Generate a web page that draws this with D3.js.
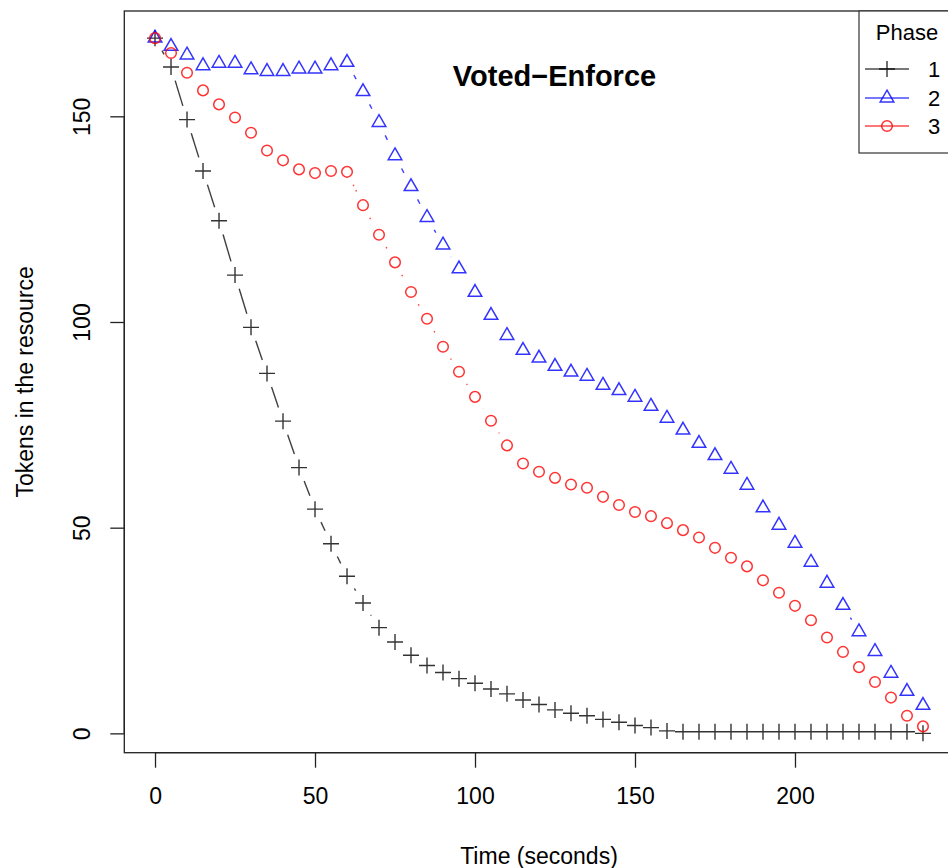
<!DOCTYPE html>
<html>
<head>
<meta charset="utf-8">
<script src="https://cdn.jsdelivr.net/npm/d3@7/dist/d3.min.js"></script>
<style>
  html, body { margin: 0; padding: 0; background: #fff; }
  svg { display: block; }
  text { font-family: "Liberation Sans", Arial, Helvetica, sans-serif; fill: #000; }
</style>
</head>
<body>
<svg id="chart" width="948" height="868"></svg>
<script>
// Sampling times (seconds)
const times = [0, 5, 10, 15, 20, 25, 30, 35, 40, 45, 50, 55, 60, 65, 70, 75, 80, 85, 90, 95,
  100, 105, 110, 115, 120, 125, 130, 135, 140, 145, 150, 155, 160, 165, 170, 175, 180, 185,
  190, 195, 200, 205, 210, 215, 220, 225, 230, 235, 240];

// Tokens remaining in the resource, per phase
const phase1 = [169.0, 162.0, 149.2, 136.7, 124.6, 111.4, 98.7, 87.5, 75.9, 64.6, 54.5, 46.1,
  38.2, 31.7, 25.7, 22.2, 19.0, 16.5, 14.8, 13.3, 12.2, 10.8, 9.6, 8.1, 7.0, 5.7, 4.9, 4.3,
  3.4, 2.7, 1.9, 1.4, 0.6, 0.4, 0.4, 0.4, 0.4, 0.4, 0.4, 0.4, 0.4, 0.4, 0.4, 0.4, 0.4, 0.4,
  0.4, 0.4, 0.0];
const phase2 = [169.0, 167.0, 164.9, 162.3, 162.9, 162.9, 161.3, 160.9, 160.9, 161.5, 161.5,
  162.3, 163.1, 156.0, 148.5, 140.4, 132.9, 125.4, 118.7, 112.9, 107.2, 101.6, 96.7, 93.1,
  91.2, 89.2, 87.8, 86.8, 84.6, 83.3, 81.7, 79.5, 76.6, 73.7, 70.5, 67.5, 64.2, 60.3, 54.8,
  50.6, 46.2, 41.6, 36.5, 31.1, 24.7, 19.9, 14.6, 10.2, 6.8];
const phase3 = [169.0, 165.4, 160.6, 156.3, 152.9, 149.7, 146.0, 141.7, 139.3, 137.1, 136.2,
  136.7, 136.5, 128.4, 121.2, 114.5, 107.3, 100.8, 94.0, 87.9, 81.8, 76.0, 70.0, 65.6, 63.6,
  62.1, 60.5, 59.7, 57.5, 55.5, 53.8, 52.8, 51.1, 49.4, 47.6, 45.1, 42.7, 40.6, 37.2, 34.2,
  31.0, 27.5, 23.3, 19.8, 16.1, 12.5, 8.7, 4.3, 1.7];

const phaseNames = ["1", "2", "3"];
const xTicks = [0, 50, 100, 150, 200];
const yTicks = [0, 50, 100, 150];

const chartTitle = "Voted\u2212Enforce";
const xTitle = "Time (seconds)";
const yTitle = "Tokens in the resource";
const legendTitle = "Phase";

const series = [
  { name: phaseNames[0], values: phase1, color: "#000000", shape: "cross", dash: null },
  { name: phaseNames[1], values: phase2, color: "#0000ff", shape: "triangle", dash: "5,5" },
  { name: phaseNames[2], values: phase3, color: "#ff0000", shape: "circle", dash: "1.5,4.5" }
];

const svg = d3.select("#chart");

// Plot region
const plotLeft = 124.3, plotRight = 953.7, plotTop = 11, plotBottom = 752.7;
const x = d3.scaleLinear().domain([-9.6, 249.6]).range([plotLeft, plotRight]);
const y = d3.scaleLinear().domain([-4.7, 175.6]).range([plotBottom, plotTop]);

// Marker drawing
function drawMarker(g, shape, color, cx, cy) {
  if (shape === "cross") {
    g.append("path")
      .attr("d", `M${cx - 8},${cy}H${cx + 8}M${cx},${cy - 8}V${cy + 8}`)
      .attr("stroke", color).attr("stroke-width", 1.4).attr("fill", "none")
      .attr("opacity", 0.8);
  } else if (shape === "triangle") {
    g.append("path")
      .attr("d", d3.symbol().type(d3.symbolTriangle).size(80)())
      .attr("transform", `translate(${cx},${cy})`)
      .attr("stroke", color).attr("stroke-width", 1.5).attr("fill", "none")
      .attr("opacity", 0.8);
  } else {
    g.append("circle")
      .attr("cx", cx).attr("cy", cy).attr("r", 5.3)
      .attr("stroke", color).attr("stroke-width", 1.5).attr("fill", "none")
      .attr("opacity", 0.8);
  }
}

// Series: points joined by segments that stop short of each point
const gap = 14.3;
const plotG = svg.append("g");
series.forEach(s => {
  const g = plotG.append("g");
  const pts = times.map((t, i) => [x(t), y(s.values[i])]);
  for (let i = 0; i < pts.length - 1; i++) {
    const [x0, y0] = pts[i], [x1, y1] = pts[i + 1];
    const dx = x1 - x0, dy = y1 - y0;
    const len = Math.hypot(dx, dy);
    if (len <= 2 * gap) continue;
    const ux = dx / len, uy = dy / len;
    g.append("line")
      .attr("x1", x0 + ux * gap).attr("y1", y0 + uy * gap)
      .attr("x2", x1 - ux * gap).attr("y2", y1 - uy * gap)
      .attr("stroke", s.color).attr("stroke-width", 1.4)
      .attr("stroke-dasharray", s.dash)
      .attr("opacity", 0.75);
  }
  pts.forEach(([px, py]) => drawMarker(g, s.shape, s.color, px, py));
});

// Plot frame
svg.append("rect")
  .attr("x", plotLeft).attr("y", plotTop)
  .attr("width", plotRight - plotLeft).attr("height", plotBottom - plotTop)
  .attr("fill", "none").attr("stroke", "#222").attr("stroke-width", 1.3);

// X axis
const xAxis = d3.axisBottom(x).tickValues(xTicks).tickSize(15).tickSizeOuter(0).tickPadding(20)
  .tickFormat(d3.format("d"));
const xg = svg.append("g").attr("transform", `translate(0,${plotBottom})`).call(xAxis);
xg.select(".domain").remove();
xg.append("line").attr("x1", x(xTicks[0])).attr("x2", x(xTicks[xTicks.length - 1]))
  .attr("y1", 0).attr("y2", 0).attr("stroke", "#222").attr("stroke-width", 1.3);
xg.selectAll(".tick line").attr("stroke", "#222").attr("stroke-width", 1.3);
xg.selectAll(".tick text").attr("font-size", 23).attr("fill", "#111")
  .style("font-family", "'Liberation Sans', Arial, sans-serif");

// Y axis (labels rotated, as in base graphics)
const yAxis = d3.axisLeft(y).tickValues(yTicks).tickSize(14).tickSizeOuter(0)
  .tickFormat(d3.format("d"));
const yg = svg.append("g").attr("transform", `translate(${plotLeft},0)`).call(yAxis);
yg.select(".domain").remove();
yg.append("line").attr("y1", y(yTicks[0])).attr("y2", y(yTicks[yTicks.length - 1]))
  .attr("x1", 0).attr("x2", 0).attr("stroke", "#222").attr("stroke-width", 1.3);
yg.selectAll(".tick line").attr("stroke", "#222").attr("stroke-width", 1.3);
yg.selectAll(".tick text")
  .attr("x", null).attr("dy", null)
  .attr("text-anchor", "middle")
  .attr("transform", `translate(${90 - plotLeft},0) rotate(-90)`)
  .attr("font-size", 23).attr("fill", "#111")
  .style("font-family", "'Liberation Sans', Arial, sans-serif");

// Axis titles
svg.append("text")
  .attr("x", (plotLeft + plotRight) / 2).attr("y", 864)
  .attr("text-anchor", "middle").attr("font-size", 23).attr("fill", "#111")
  .text(xTitle);
svg.append("text")
  .attr("transform", `translate(33,${(plotTop + plotBottom) / 2}) rotate(-90)`)
  .attr("text-anchor", "middle").attr("font-size", 23).attr("fill", "#111")
  .text(yTitle);

// Title inside the plot
svg.append("text")
  .attr("x", 554.5).attr("y", 86)
  .attr("text-anchor", "middle").attr("font-size", 29).attr("font-weight", "bold")
  .text(chartTitle);

// Legend
const lg = svg.append("g");
lg.append("rect")
  .attr("x", 859).attr("y", plotTop).attr("width", 120).attr("height", 142)
  .attr("fill", "#fff").attr("stroke", "#333").attr("stroke-width", 1.2);
lg.append("text")
  .attr("x", 907).attr("y", 40)
  .attr("text-anchor", "middle").attr("font-size", 22).attr("fill", "#222")
  .text(legendTitle);
const legendY = [69, 98, 126];
series.forEach((s, i) => {
  const ly = legendY[i];
  lg.append("line")
    .attr("x1", 865).attr("x2", 909).attr("y1", ly).attr("y2", ly)
    .attr("stroke", s.color).attr("stroke-width", 1.4).attr("opacity", 0.7);
  drawMarker(lg, s.shape, s.color, 887, ly);
  lg.append("text")
    .attr("x", 928).attr("y", ly + 8)
    .attr("font-size", 22).attr("fill", "#222")
    .text(s.name);
});
</script>
</body>
</html>
